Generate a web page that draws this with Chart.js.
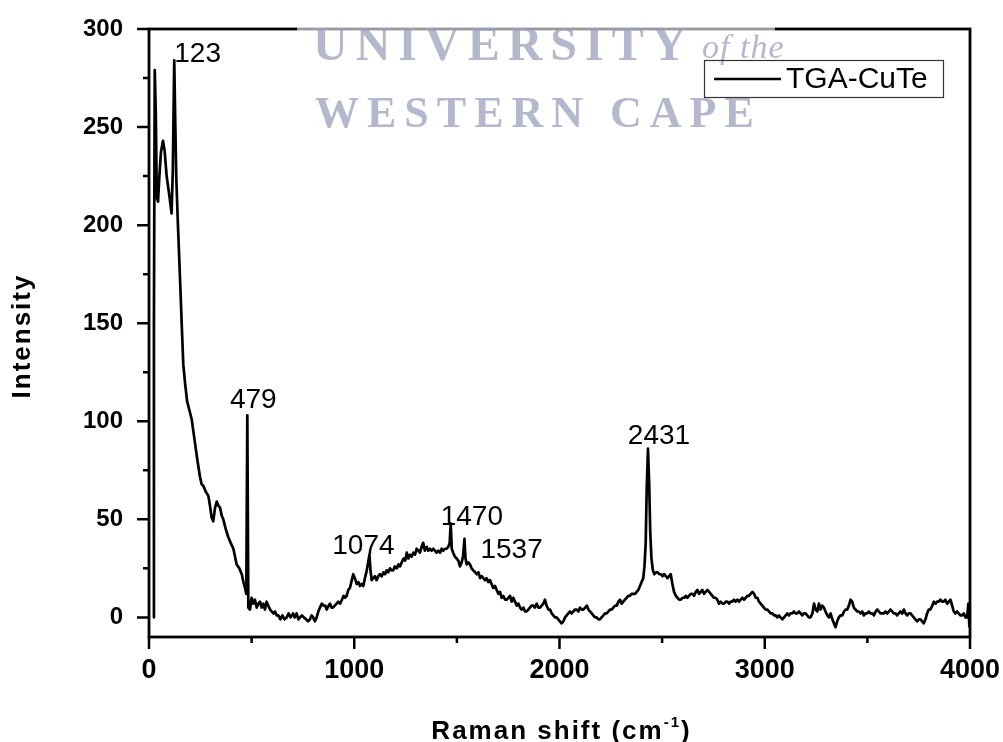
<!DOCTYPE html>
<html>
<head>
<meta charset="utf-8">
<title>Raman spectrum - TGA-CuTe</title>
<script src="https://cdn.jsdelivr.net/npm/chart.js@4.4.1/dist/chart.umd.min.js"></script>
<style>
  html, body { margin: 0; padding: 0; background: #fff; }
  #wrap { width: 1003px; height: 742px; }
</style>
</head>
<body>
<div id="wrap"><canvas id="ramanChart" width="1003" height="742"></canvas></div>
<script>
// Raman shift (cm-1) and measured intensity
const ramanShift = [
  20, 24, 28, 33, 38, 44, 50, 58, 68, 76, 86, 98, 110, 116, 123, 128, 133, 141, 150, 160,
  167, 176, 186, 196, 208, 216, 224, 236, 248, 256, 265, 277, 289, 297, 305, 313, 322, 330, 338, 346,
  354, 362, 374, 386, 398, 411, 419, 427, 440, 452, 460, 468, 474, 479, 484, 492, 500, 508, 516, 525,
  533, 541, 549, 557, 565, 573, 581, 590, 598, 606, 614, 622, 630, 640, 650, 660, 671, 680, 690, 702,
  710, 719, 728, 736, 745, 754, 765, 775, 784, 792, 800, 808, 817, 825, 833, 842, 850, 858, 866, 875,
  882, 889, 896, 905, 914, 922, 931, 940, 948, 955, 963, 971, 979, 988, 995, 1003, 1012, 1020, 1028, 1036,
  1044, 1052, 1061, 1066, 1074, 1079, 1085, 1093, 1101, 1109, 1117, 1125, 1134, 1142, 1150, 1158, 1166, 1174, 1182, 1190,
  1198, 1207, 1215, 1223, 1231, 1240, 1248, 1256, 1264, 1272, 1280, 1288, 1296, 1304, 1312, 1320, 1328, 1336, 1344, 1353,
  1361, 1369, 1377, 1385, 1393, 1401, 1410, 1418, 1426, 1434, 1442, 1450, 1458, 1465, 1470, 1475, 1482, 1490, 1499, 1507,
  1515, 1523, 1530, 1537, 1542, 1548, 1556, 1564, 1572, 1580, 1589, 1597, 1605, 1613, 1621, 1629, 1637, 1645, 1653, 1661,
  1669, 1677, 1686, 1694, 1702, 1710, 1718, 1726, 1735, 1743, 1751, 1759, 1767, 1775, 1783, 1792, 1800, 1808, 1816, 1824,
  1832, 1840, 1848, 1856, 1864, 1872, 1880, 1889, 1897, 1905, 1913, 1921, 1929, 1937, 1946, 1954, 1962, 1970, 1978, 1986,
  1994, 2002, 2010, 2019, 2027, 2035, 2043, 2051, 2059, 2067, 2076, 2084, 2092, 2100, 2108, 2116, 2125, 2133, 2141, 2149,
  2157, 2165, 2173, 2181, 2189, 2197, 2205, 2214, 2222, 2230, 2238, 2246, 2254, 2262, 2271, 2279, 2287, 2295, 2303, 2311,
  2319, 2327, 2335, 2343, 2351, 2360, 2368, 2376, 2384, 2392, 2400, 2408, 2414, 2420, 2425, 2431, 2437, 2442, 2448, 2455,
  2462, 2470, 2478, 2486, 2494, 2502, 2510, 2518, 2526, 2534, 2542, 2550, 2558, 2567, 2575, 2583, 2591, 2599, 2607, 2615,
  2623, 2631, 2640, 2648, 2656, 2664, 2672, 2680, 2688, 2696, 2704, 2712, 2721, 2729, 2737, 2745, 2753, 2761, 2769, 2777,
  2785, 2794, 2802, 2810, 2818, 2826, 2834, 2842, 2850, 2858, 2867, 2875, 2883, 2891, 2899, 2907, 2915, 2923, 2931, 2940,
  2948, 2956, 2964, 2972, 2980, 2988, 2996, 3004, 3013, 3021, 3029, 3037, 3045, 3053, 3061, 3069, 3077, 3086, 3094, 3102,
  3110, 3118, 3126, 3134, 3142, 3150, 3159, 3167, 3175, 3183, 3191, 3199, 3207, 3215, 3223, 3232, 3240, 3248, 3256, 3264,
  3272, 3280, 3288, 3296, 3305, 3313, 3321, 3329, 3337, 3345, 3353, 3361, 3369, 3378, 3386, 3394, 3402, 3410, 3418, 3426,
  3434, 3442, 3451, 3459, 3467, 3475, 3483, 3491, 3499, 3507, 3515, 3524, 3532, 3540, 3548, 3556, 3564, 3572, 3580, 3588,
  3597, 3605, 3613, 3621, 3629, 3637, 3645, 3653, 3661, 3670, 3678, 3686, 3694, 3702, 3710, 3718, 3726, 3734, 3743, 3751,
  3759, 3767, 3775, 3783, 3791, 3799, 3807, 3816, 3824, 3832, 3840, 3848, 3856, 3864, 3872, 3880, 3889, 3897, 3905, 3913,
  3921, 3929, 3937, 3945, 3953, 3962, 3970, 3978, 3986, 3992, 3997
];
const intensity = [
  0, 150, 279, 258, 214, 212, 224, 237, 243, 238, 225, 216, 206, 228, 284, 252, 224, 200, 176, 148,
  129, 119, 110, 106, 101, 95, 89, 80, 72, 68, 67, 64, 62, 57, 51, 49, 56, 59, 57, 56,
  52, 50, 45, 41, 38, 35, 31, 27, 25, 22, 18, 15, 12, 103, 5, 4, 10, 7, 9, 5,
  7, 8, 5, 7, 4, 8, 6, 4, 3, 2, 3, 1, 1, -1, 1, -1, 0, 2, 0, 2,
  0, 2, -1, 0, 1, 0, -1, -2, -1, 1, 0, -2, 0, 3, 5, 7, 6, 6, 4, 6,
  7, 5, 5, 6, 7, 8, 7, 9, 11, 10, 11, 14, 15, 19, 22, 20, 17, 18, 16, 17,
  16, 20, 24, 27, 32, 24, 19, 20, 21, 19, 21, 22, 21, 23, 22, 24, 23, 25, 24, 24,
  26, 25, 27, 26, 28, 30, 29, 33, 30, 32, 31, 33, 32, 35, 34, 33, 36, 38, 34, 36,
  34, 35, 34, 35, 34, 33, 34, 33, 35, 34, 35, 35, 36, 38, 48, 35, 33, 31, 30, 29,
  26, 28, 31, 40, 30, 27, 28, 27, 25, 24, 23, 22, 23, 20, 21, 20, 19, 20, 18, 19,
  17, 15, 16, 14, 12, 13, 10, 11, 9, 9, 10, 11, 8, 10, 8, 6, 7, 5, 4, 5,
  3, 3, 4, 5, 6, 6, 5, 7, 5, 5, 6, 7, 9, 6, 4, 4, 2, 1, 0, 0,
  -1, -2, -3, -2, 0, 1, 2, 3, 2, 3, 4, 4, 3, 5, 4, 4, 5, 6, 4, 3,
  2, 1, 0, 0, -1, -1, 0, 1, 2, 2, 3, 4, 4, 5, 6, 6, 8, 9, 7, 8,
  9, 10, 11, 11, 12, 12, 12, 13, 14, 16, 18, 20, 26, 38, 66, 86, 68, 44, 30, 24,
  22, 23, 23, 22, 22, 21, 22, 21, 20, 21, 22, 17, 13, 11, 10, 9, 9, 10, 10, 11,
  10, 11, 12, 12, 11, 13, 14, 12, 13, 14, 12, 13, 14, 13, 12, 11, 10, 10, 9, 7,
  8, 7, 7, 8, 8, 7, 8, 8, 9, 8, 9, 8, 9, 10, 9, 10, 11, 11, 12, 13,
  12, 10, 10, 8, 7, 6, 5, 4, 4, 3, 2, 2, 1, 1, 0, 1, 0, -1, 0, 1,
  2, 1, 2, 2, 3, 2, 2, 3, 2, 1, 2, 2, 1, 0, 0, 2, 7, 4, 3, 7,
  4, 6, 5, 3, 1, 0, 2, -1, -3, -5, -2, 0, 1, 1, 3, 4, 4, 6, 9, 8,
  5, 4, 3, 3, 2, 3, 1, 2, 2, 3, 2, 2, 1, 3, 4, 3, 2, 2, 2, 3,
  2, 3, 4, 3, 2, 2, 1, 2, 3, 2, 4, 2, 1, 2, 2, 1, 0, -1, -2, -1,
  -1, -2, -3, -1, 2, 4, 4, 6, 8, 7, 8, 8, 9, 8, 8, 9, 7, 8, 9, 6,
  3, 2, 3, 2, 1, 1, 2, 0, 0, 7, -5
];

const xTickValues = [0, 500, 1000, 1500, 2000, 2500, 3000, 3500, 4000];
const yTickValues = [0, 25, 50, 75, 100, 125, 150, 175, 200, 225, 250, 275, 300];
const peakLabels = [123, 479, 1074, 1470, 1537, 2431];
const seriesName = 'TGA-CuTe';
const xTitle = 'Raman shift (cm';
const xTitleSup = '-1';
const yTitle = 'Intensity';
const watermark = ['UNIVERSITY', 'of the', 'WESTERN CAPE'];

const SANS = '"Liberation Sans", Arial, sans-serif';
const SERIF = '"Liberation Serif", "Times New Roman", serif';
Chart.defaults.font.family = SANS;
Chart.defaults.color = '#000';

// label placement next to each peak: alignment, pixel shift, baseline shift
const peakLabelStyle = {
  123:  { align: 'left',   dx: 0,   dy: 2 },
  479:  { align: 'center', dx: 6,   dy: -7 },
  1074: { align: 'center', dx: -6,  dy: -1 },
  1470: { align: 'left',   dx: -10, dy: 2 },
  1537: { align: 'left',   dx: 16,  dy: 19 },
  2431: { align: 'center', dx: 11,  dy: -5 }
};

const decorPlugin = {
  id: 'ramanDecor',
  afterDraw(chart) {
    const { ctx, chartArea: area, scales: { x, y } } = chart;
    ctx.save();

    // tick marks, long on labelled values
    ctx.strokeStyle = '#000';
    ctx.lineWidth = 2.5;
    ctx.beginPath();
    xTickValues.forEach(v => {
      const px = x.getPixelForValue(v);
      const len = v % 1000 === 0 ? 12 : 6;
      ctx.moveTo(px, area.bottom);
      ctx.lineTo(px, area.bottom + len);
    });
    yTickValues.forEach(v => {
      const py = y.getPixelForValue(v);
      const len = v % 50 === 0 ? 12 : 6;
      ctx.moveTo(area.left, py);
      ctx.lineTo(area.left - len, py);
    });
    ctx.stroke();

    // frame
    ctx.lineWidth = 2.8;
    ctx.strokeRect(area.left, area.top, area.right - area.left, area.bottom - area.top);

    // axis titles
    ctx.fillStyle = '#000';
    ctx.letterSpacing = '2px';
    ctx.font = 'bold 26px ' + SANS;
    const wMain = ctx.measureText(xTitle).width;
    ctx.font = 'bold 15px ' + SANS;
    const wSup = ctx.measureText(xTitleSup).width;
    ctx.font = 'bold 26px ' + SANS;
    const wClose = ctx.measureText(')').width;
    let tx = (area.left + area.right) / 2 - (wMain + wSup + wClose) / 2 + 2;
    const ty = 739;
    ctx.textAlign = 'left';
    ctx.textBaseline = 'alphabetic';
    ctx.fillText(xTitle, tx, ty);
    tx += wMain;
    ctx.font = 'bold 15px ' + SANS;
    ctx.fillText(xTitleSup, tx, ty - 12);
    tx += wSup;
    ctx.font = 'bold 26px ' + SANS;
    ctx.fillText(')', tx, ty);

    ctx.save();
    ctx.translate(23, 336);
    ctx.rotate(-Math.PI / 2);
    ctx.textAlign = 'center';
    ctx.textBaseline = 'middle';
    ctx.fillText(yTitle, 0, 0);
    ctx.restore();
    ctx.letterSpacing = '0px';

    // peak annotations
    ctx.font = '28px ' + SANS;
    ctx.textBaseline = 'alphabetic';
    peakLabels.forEach(p => {
      const i = ramanShift.indexOf(p);
      const st = peakLabelStyle[p];
      const px = x.getPixelForValue(p);
      const py = y.getPixelForValue(intensity[i]);
      ctx.textAlign = st.align;
      ctx.fillText(String(p), px + st.dx, py + st.dy);
    });

    // washed-out band behind the university mark
    ctx.fillStyle = 'rgba(255,255,255,0.6)';
    ctx.fillRect(297, 0, 478, 140);
    ctx.fillStyle = 'rgba(152,157,184,0.72)';
    ctx.textAlign = 'left';
    ctx.letterSpacing = '8px';
    ctx.font = 'bold 48px ' + SERIF;
    ctx.fillText(watermark[0], 313, 60);
    ctx.letterSpacing = '1px';
    ctx.font = 'italic 34px ' + SERIF;
    ctx.fillText(watermark[1], 702, 58);
    ctx.letterSpacing = '8px';
    ctx.font = 'bold 44px ' + SERIF;
    ctx.fillText(watermark[2], 315, 127);
    ctx.letterSpacing = '0px';

    // legend
    const lx = area.right - 266, ly = area.top + 31;
    ctx.strokeStyle = '#333';
    ctx.lineWidth = 1.2;
    ctx.strokeRect(lx + 0.5, ly + 0.5, 239, 37);
    ctx.strokeStyle = '#000';
    ctx.lineWidth = 2.5;
    ctx.beginPath();
    ctx.moveTo(lx + 10, ly + 19);
    ctx.lineTo(lx + 77, ly + 19);
    ctx.stroke();
    ctx.fillStyle = '#000';
    ctx.font = '30px ' + SANS;
    ctx.textBaseline = 'middle';
    ctx.fillText(seriesName, lx + 82, ly + 20);

    ctx.restore();
  }
};

const ctx = document.getElementById('ramanChart').getContext('2d');
new Chart(ctx, {
  type: 'line',
  data: {
    datasets: [{
      label: seriesName,
      data: ramanShift.map((v, i) => ({ x: v, y: intensity[i] })),
      borderColor: '#000',
      borderWidth: 2.7,
      borderJoinStyle: 'round',
      pointRadius: 0,
      tension: 0,
      fill: false
    }]
  },
  options: {
    responsive: false,
    animation: false,
    events: [],
    layout: { padding: { top: 29, right: 33, left: 0, bottom: 0 } },
    plugins: { legend: { display: false }, tooltip: { enabled: false } },
    scales: {
      x: {
        type: 'linear',
        min: 0,
        max: 4000,
        afterBuildTicks: scale => { scale.ticks = xTickValues.map(v => ({ value: v })); },
        afterFit: scale => {
          scale.height = 105;
          scale.paddingLeft = 0;
          scale.paddingRight = 0;
        },
        grid: { display: false, drawTicks: false },
        border: { display: false },
        ticks: {
          autoSkip: false,
          maxRotation: 0,
          padding: 17,
          color: '#000',
          font: { size: 27, weight: 'bold' },
          callback: v => (v % 1000 === 0 ? String(v) : '')
        }
      },
      y: {
        type: 'linear',
        min: -10,
        max: 300,
        afterBuildTicks: scale => { scale.ticks = yTickValues.map(v => ({ value: v })); },
        afterFit: scale => {
          scale.width = 149;
          scale.paddingTop = 0;
          scale.paddingBottom = 0;
        },
        grid: { display: false, drawTicks: false },
        border: { display: false },
        ticks: {
          autoSkip: false,
          padding: 26,
          color: '#000',
          font: { size: 24, weight: 'bold' },
          callback: v => (v % 50 === 0 ? String(v) : '')
        }
      }
    }
  },
  plugins: [decorPlugin]
});
</script>
</body>
</html>
